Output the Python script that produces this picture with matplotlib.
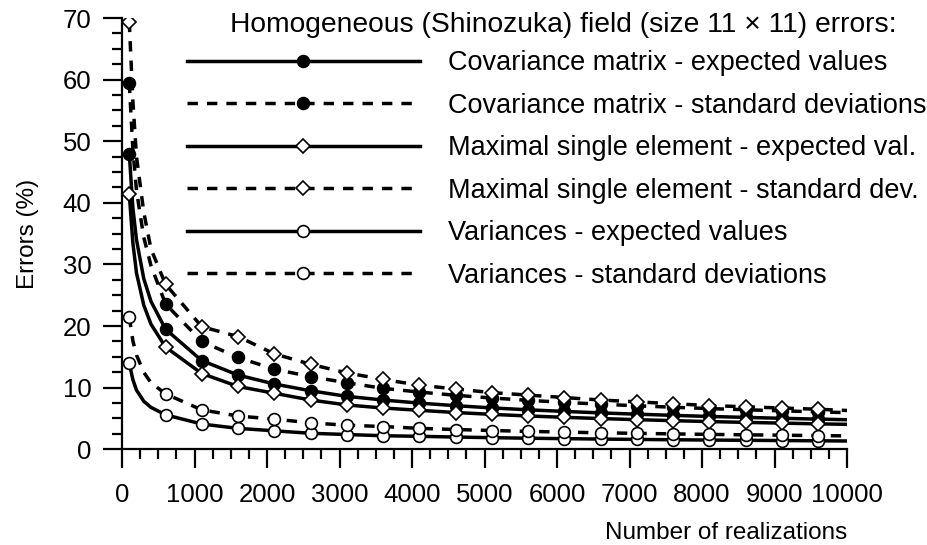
import matplotlib
matplotlib.use("Agg")
import matplotlib.pyplot as plt
from matplotlib.ticker import MultipleLocator

plt.rcParams['font.family'] = ['Liberation Sans', 'DejaVu Sans']

# number of realizations (line points), markers every 500 from 100
n = [100, 150, 200, 300, 400, 600, 1100, 1600, 2100, 2600, 3100, 3600, 4100,
     4600, 5100, 5600, 6100, 6600, 7100, 7600, 8100, 8600, 9100, 9600, 10000]

cov_exp = [48.0, 39.2, 34.0, 27.7, 24.0, 19.5, 14.4, 12.05, 10.6, 9.5, 8.6, 8.0, 7.5,
           7.08, 6.72, 6.41, 6.15, 5.91, 5.70, 5.51, 5.33, 5.18, 5.03, 4.90, 4.80]
cov_std = [59.5, 48.6, 42.0, 34.4, 29.8, 23.6, 17.5, 14.9, 13.0, 11.8, 10.8, 9.9, 9.29,
           8.77, 8.33, 7.95, 7.62, 7.32, 7.06, 6.83, 6.61, 6.42, 6.24, 6.07, 5.95]
max_exp = [41.5, 33.5, 28.6, 23.4, 20.3, 16.6, 12.3, 10.2, 9.1, 8.0, 7.2, 6.7, 6.33,
           5.97, 5.67, 5.41, 5.19, 4.99, 4.81, 4.65, 4.50, 4.37, 4.25, 4.13, 4.05]
max_std = [69.4, 56.5, 47.5, 38.5, 32.5, 26.8, 19.9, 18.3, 15.5, 13.8, 12.4, 11.35, 10.4,
           9.8, 9.2, 8.8, 8.4, 8.0, 7.7, 7.4, 7.1, 6.9, 6.7, 6.5, 6.3]
var_exp = [14.0, 11.3, 9.6, 7.8, 6.8, 5.6, 4.1, 3.4, 3.0, 2.6, 2.4, 2.2, 2.11,
           1.99, 1.89, 1.80, 1.73, 1.66, 1.60, 1.55, 1.50, 1.46, 1.42, 1.38, 1.35]
var_std = [21.5, 17.6, 15.3, 12.5, 10.8, 9.0, 6.4, 5.4, 4.9, 4.3, 3.9, 3.7, 3.4,
           3.21, 3.05, 2.91, 2.79, 2.68, 2.59, 2.50, 2.42, 2.35, 2.29, 2.22, 2.18]

labels = ["Covariance matrix - expected values",
          "Covariance matrix - standard deviations",
          "Maximal single element - expected val.",
          "Maximal single element - standard dev.",
          "Variances - expected values",
          "Variances - standard deviations"]

marks = [0] + list(range(5, 24))
dashed = (0, (3.0, 2.6))

fig = plt.figure(figsize=(9.27, 5.45), dpi=100)
ax = fig.add_axes([122/927, 1-449.3/545, 725/927, 431.3/545])

series = [
    (cov_exp, '-', 'o', 'black'),
    (cov_std, dashed, 'o', 'black'),
    (max_exp, '-', 'D', 'white'),
    (max_std, dashed, 'D', 'white'),
    (var_exp, '-', 'o', 'white'),
    (var_std, dashed, 'o', 'white'),
]
for (vals, ls, mk, fc), lab in zip(series, labels):
    ms = 8.5 if mk == 'o' else 7.5
    ax.plot(n, vals, color='black', lw=2.5, ls=ls, marker=mk, ms=ms,
            mfc=fc, mec='black', mew=1.2, markevery=marks, label=lab)

ax.set_xlim(0, 10000)
ax.set_ylim(0, 70)
for s in ['top', 'right']:
    ax.spines[s].set_visible(False)
for s in ['left', 'bottom']:
    ax.spines[s].set_linewidth(1.6)

ax.xaxis.set_major_locator(MultipleLocator(1000))
ax.xaxis.set_minor_locator(MultipleLocator(250))
ax.yaxis.set_major_locator(MultipleLocator(10))
ax.yaxis.set_minor_locator(MultipleLocator(2.5))
ax.tick_params(which='major', length=14, width=1.6, direction='out', labelsize=18.5, pad=8)
ax.tick_params(which='minor', length=7, width=1.6, direction='out')
ax.tick_params(axis='x', which='major', pad=10)

ax.set_ylabel("Errors (%)", fontsize=17.5, labelpad=17)
ax.set_xlabel("Number of realizations", fontsize=17.5, loc='right', labelpad=11)

fig.text(563/927, 1-25/545, "Homogeneous (Shinozuka) field (size 11 \u00d7 11) errors:",
         ha='center', va='center', fontsize=20.3)

ax.legend(loc='upper left', bbox_to_anchor=(187/927, 1-50/545),
          bbox_transform=fig.transFigure, frameon=False, fontsize=19.5,
          handlelength=8.6, handletextpad=1.05, labelspacing=0.61,
          borderpad=0, borderaxespad=0, numpoints=1)

fig.savefig("out.png", dpi=100)
